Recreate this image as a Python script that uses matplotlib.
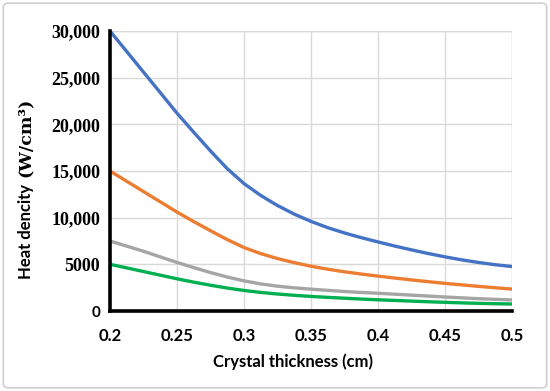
import matplotlib.pyplot as plt
from matplotlib.patches import FancyBboxPatch

# Datos
espesor = [0.2, 0.2125, 0.225, 0.2375, 0.25, 0.2625, 0.275, 0.2875, 0.3, 0.3125, 0.325, 0.3375, 0.35,
           0.3625, 0.375, 0.3875, 0.4, 0.4125, 0.425, 0.4375, 0.45, 0.4625, 0.475, 0.4875, 0.5]
serie_azul = [30000, 27800, 25600, 23400, 21200, 19150, 17150, 15250, 13650, 12380, 11300, 10380, 9600,
              8930, 8360, 7860, 7400, 6960, 6550, 6160, 5800, 5480, 5200, 4960, 4760]
serie_naranja = [15000, 13900, 12800, 11700, 10600, 9580, 8600, 7650, 6800, 6150, 5620, 5180, 4800,
                 4480, 4200, 3960, 3740, 3530, 3330, 3140, 2960, 2800, 2640, 2490, 2350]
serie_gris = [7500, 6950, 6400, 5800, 5200, 4650, 4120, 3640, 3230, 2900, 2660, 2480, 2340,
              2210, 2090, 1990, 1900, 1800, 1700, 1600, 1500, 1410, 1320, 1250, 1180]
serie_verde = [5000, 4620, 4230, 3840, 3450, 3090, 2760, 2460, 2200, 1990, 1820, 1680, 1560,
               1460, 1370, 1280, 1200, 1130, 1060, 990, 930, 870, 820, 780, 750]

colores = ['#4472C4', '#ED7D31', '#A5A5A5', '#00B050']
xticks = [0.2, 0.25, 0.3, 0.35, 0.4, 0.45, 0.5]
xtick_labels = ['0.2', '0.25', '0.3', '0.35', '0.4', '0.45', '0.5']
yticks = [0, 5000, 10000, 15000, 20000, 25000, 30000]
ytick_labels = ['0', '5000', '10,000', '15,000', '20,000', '25,000', '30,000']

fig = plt.figure(figsize=(5.5, 3.91), dpi=100)
ax = fig.add_axes([0.2, 0.2046, 0.731, 0.716])

# Marco gris redondeado alrededor de la figura
borde = FancyBboxPatch((0.006, 0.008), 0.988, 0.984, boxstyle='round,pad=0,rounding_size=0.01',
                       transform=fig.transFigure, facecolor='none', edgecolor='#D0D0D0', linewidth=1.2)
fig.patches.append(borde)

for serie, color in zip([serie_azul, serie_naranja, serie_gris, serie_verde], colores):
    ax.plot(espesor, serie, color=color, linewidth=2.4, solid_capstyle='butt', zorder=3)

ax.set_xlim(0.2, 0.5)
ax.set_ylim(0, 30000)
ax.set_xticks(xticks)
ax.set_xticklabels(xtick_labels, fontfamily='Lato', fontweight='bold', fontsize=12)
ax.set_yticks(yticks)
ax.set_yticklabels(ytick_labels, fontfamily='Liberation Serif', fontweight='bold', fontsize=13)
ax.get_yticklabels()[0].set_fontfamily('Lato')
ax.get_yticklabels()[0].set_fontsize(11)

ax.tick_params(axis='both', length=0)
ax.tick_params(axis='y', pad=7)
ax.tick_params(axis='x', pad=12)
ax.grid(True, color='#D9D9D9', linewidth=1.0, zorder=0)
for lado in ['top', 'right']:
    ax.spines[lado].set_visible(False)
for lado in ['left', 'bottom']:
    ax.spines[lado].set_linewidth(2.6)
    ax.spines[lado].set_color('black')
    ax.spines[lado].set_zorder(4)

# Líneas de la cuadrícula en el borde superior y derecho
ax.axhline(30000, color='#D9D9D9', linewidth=1.0, zorder=0)
ax.axvline(0.5, color='#D9D9D9', linewidth=1.0, zorder=0)

fig.text(0.532, 0.076, 'Crystal thickness (cm)', ha='center', va='center',
         fontfamily='Lato', fontweight='bold', fontsize=12)
# Etiqueta del eje Y en dos partes: texto sans y unidades serif
fig.text(0.048, 0.407, 'Heat dencity', ha='center', va='center', rotation=90,
         fontfamily='Lato', fontweight='bold', fontsize=12)
fig.text(0.046, 0.648, '(W/cm³)', ha='center', va='center', rotation=90,
         fontfamily='DejaVu Serif', fontweight='bold', fontsize=12.5)

fig.savefig('out.png', dpi=100)
